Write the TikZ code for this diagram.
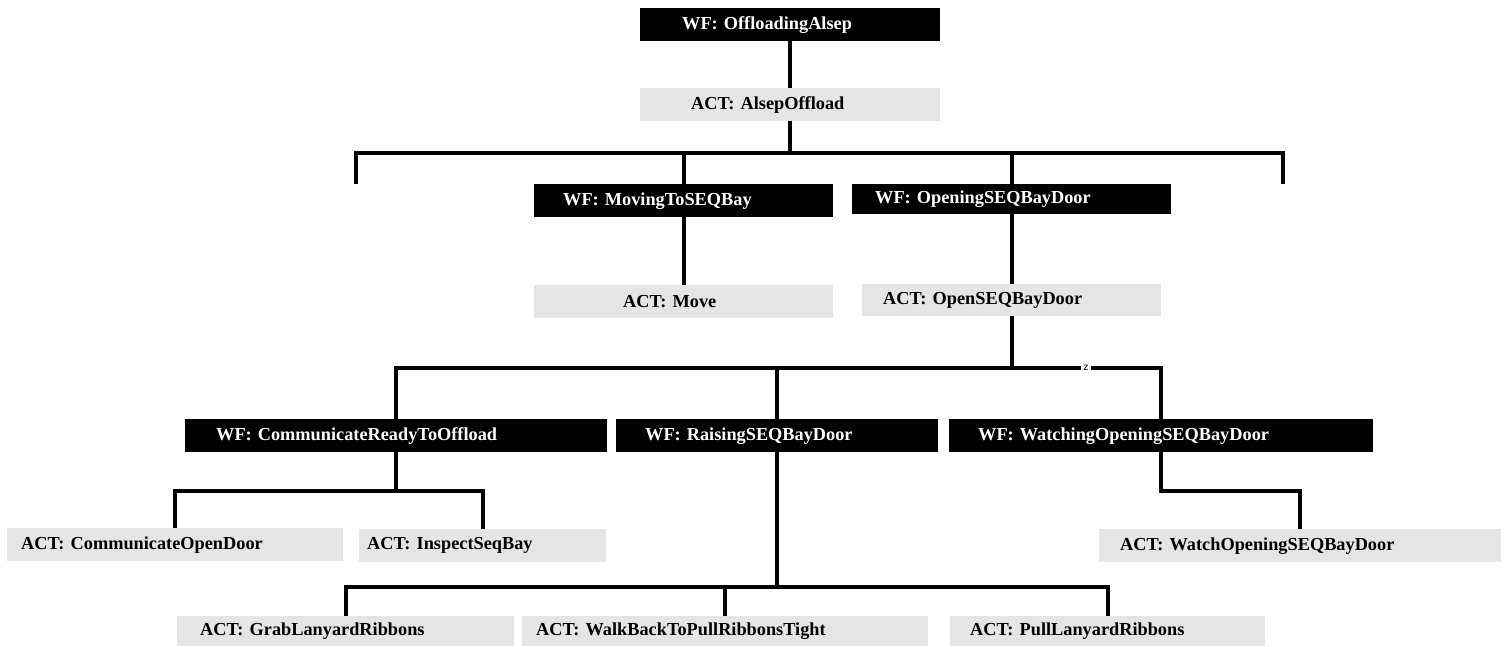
\documentclass[tikz,border=0pt]{standalone}
\usepackage{fontspec}
\setmainfont{Liberation Serif}
\frenchspacing
\begin{document}
\begin{tikzpicture}[x=1pt,y=-1pt,
    wf/.style={fill=black,text=white,anchor=north west,align=left,inner ysep=0pt,
      font=\bfseries\fontsize{18.3}{20}\selectfont},
    act/.style={fill=gray!20,text=black,anchor=north west,align=left,inner ysep=0pt,
      font=\bfseries\fontsize{18.3}{20}\selectfont},
    tree/.style={line width=4pt}]
  \useasboundingbox (0,0) rectangle (1507,646);
  % workflows and activities
  \node[wf,minimum height=33pt,inner xsep=42pt,text width=216pt] (wfoffload) at (640,8) {WF: OffloadingAlsep};
  \node[act,minimum height=33pt,inner xsep=51pt,text width=198pt] (actalsep) at (640,88) {ACT: AlsepOffload};
  \node[wf,minimum height=33pt,inner xsep=29pt,text width=241pt] (wfmoving) at (534,184) {WF: MovingToSEQBay};
  \node[act,minimum height=33pt,inner xsep=89pt,text width=121pt] (actmove) at (534,285) {ACT: Move};
  \node[wf,minimum height=30pt,inner xsep=23pt,text width=273pt] (wfopening) at (852,184) {WF: OpeningSEQBayDoor};
  \node[act,minimum height=32pt,inner xsep=21pt,text width=257pt] (actopen) at (862,284) {ACT: OpenSEQBayDoor};
  \node[wf,minimum height=33pt,inner xsep=31pt,text width=360pt] (wfcomm) at (185,419) {WF: CommunicateReadyToOffload};
  \node[wf,minimum height=33pt,inner xsep=29pt,text width=264pt] (wfraising) at (616,419) {WF: RaisingSEQBayDoor};
  \node[wf,minimum height=33pt,inner xsep=29pt,text width=366pt] (wfwatching) at (949,419) {WF: WatchingOpeningSEQBayDoor};
  \node[act,minimum height=33pt,inner xsep=14pt,text width=308pt] (actcomm) at (7,528) {ACT: CommunicateOpenDoor};
  \node[act,minimum height=33pt,inner xsep=8pt,text width=231pt] (actinspect) at (359,529) {ACT: InspectSeqBay};
  \node[act,minimum height=33pt,inner xsep=21pt,text width=360pt] (actwatch) at (1099,529) {ACT: WatchOpeningSEQBayDoor};
  \node[act,minimum height=30pt,inner xsep=23pt,text width=291pt] (actgrab) at (177,616) {ACT: GrabLanyardRibbons};
  \node[act,minimum height=30pt,inner xsep=14pt,text width=378pt] (actwalk) at (522,616) {ACT: WalkBackToPullRibbonsTight};
  \node[act,minimum height=30pt,inner xsep=20pt,text width=275pt] (actpull) at (950,616) {ACT: PullLanyardRibbons};
  \coordinate (stubl) at (356,184);
  \coordinate (stubr) at (1283,184);
  % tree lines
  \draw[tree] (wfoffload.south) -- (actalsep.north);
  \draw[tree] (actalsep.south) -- ++(0,32) -| (stubl);
  \draw[tree] (actalsep.south) -- ++(0,32) -| (wfmoving.north);
  \draw[tree] (actalsep.south) -- ++(0,32) -| (wfopening.north);
  \draw[tree] (actalsep.south) -- ++(0,32) -| (stubr);
  \draw[tree] (wfmoving.south) -- (actmove.north);
  \draw[tree] (wfopening.south) -- (actopen.north);
  \draw[tree] (actopen.south) -- ++(0,52) -| (wfcomm.north);
  \draw[tree] (actopen.south) -- ++(0,52) -| (wfraising.north);
  \draw[tree] (actopen.south) -- ++(0,52) -| (wfwatching.north);
  \draw[tree] (wfcomm.south) -- ++(0,39) -| (actcomm.north);
  \draw[tree] (wfcomm.south) -- ++(0,39) -| (actinspect.north);
  \draw[tree] (wfraising.south) -- ++(0,135) -| (actgrab.north);
  \draw[tree] (wfraising.south) -- ++(0,135) -| (actwalk.north);
  \draw[tree] (wfraising.south) -- ++(0,135) -| (actpull.north);
  \draw[tree] (wfwatching.south) -- ++(0,39) -| (actwatch.north);
  \node[fill=white,inner xsep=2pt,inner ysep=0.5pt,font=\sffamily\fontsize{12}{12}\selectfont] (zmark) at (1086,368) {z};
\end{tikzpicture}
\end{document}
